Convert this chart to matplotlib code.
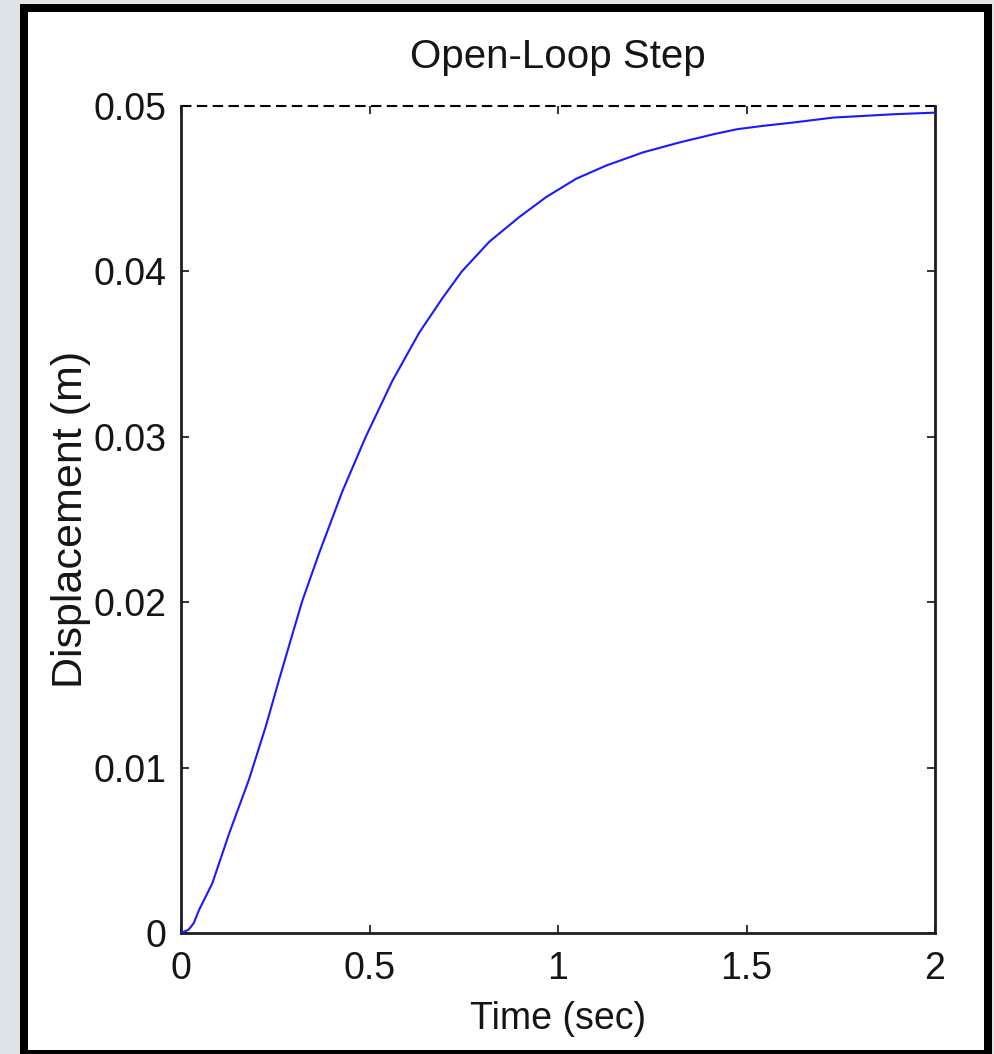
import matplotlib
matplotlib.use("Agg")
import matplotlib.pyplot as plt
from matplotlib.patches import Rectangle

# Data
time_s = [0.0, 0.02, 0.034, 0.048, 0.083, 0.1275, 0.1806, 0.225, 0.260, 0.296,
          0.322, 0.367, 0.428, 0.490, 0.561, 0.632, 0.694, 0.745, 0.818, 0.898,
          0.969, 1.048, 1.128, 1.226, 1.323, 1.414, 1.476, 1.544, 1.624, 1.730,
          1.889, 2.0]
displacement = [0.0, 0.0002, 0.0006, 0.0014, 0.0030, 0.0060, 0.0093, 0.0125, 0.0153, 0.0181,
                0.0201, 0.0230, 0.0267, 0.0300, 0.0334, 0.0363, 0.0384, 0.0400, 0.0418, 0.0433,
                0.0445, 0.0456, 0.0464, 0.0472, 0.0478, 0.0483, 0.0486, 0.0488, 0.0490, 0.0493,
                0.0495, 0.0496]
steady_state = 0.05
x_ticks = [0, 0.5, 1, 1.5, 2]
x_tick_labels = ["0", "0.5", "1", "1.5", "2"]
y_ticks = [0, 0.01, 0.02, 0.03, 0.04, 0.05]
y_tick_labels = ["0", "0.01", "0.02", "0.03", "0.04", "0.05"]

plt.rcParams['font.family'] = ['Liberation Sans', 'DejaVu Sans']

W, H = 994, 1054
fig = plt.figure(figsize=(W / 100, H / 100), dpi=100, facecolor='#e6e6e6')

# left strip tint
fig.patches.append(Rectangle((0, 0), 20 / W, 1, transform=fig.transFigure,
                             facecolor='#dde3e7', edgecolor='none', zorder=-20))
# white panel with black frame
fig.patches.append(Rectangle((24 / W, 0), (988 - 24) / W, (H - 8) / H,
                             transform=fig.transFigure, facecolor='white',
                             edgecolor='black', linewidth=8 * 0.72, zorder=-10))

ax = fig.add_axes([181 / W, (H - 933) / H, (935 - 181) / W, (933 - 106) / H])
ax.set_facecolor('white')

ax.plot(time_s, displacement, color='#1a1aff', linewidth=1.5, zorder=3)
ax.plot([0, 2], [steady_state, steady_state], color='black', linewidth=1.5,
        linestyle=(0, (5, 2.6)), clip_on=False, zorder=4)

ax.set_xlim(0, 2)
ax.set_ylim(0, 0.05)
ax.set_xticks(x_ticks)
ax.set_xticklabels(x_tick_labels)
ax.set_yticks(y_ticks)
ax.set_yticklabels(y_tick_labels)

for side in ['left', 'bottom', 'right']:
    ax.spines[side].set_linewidth(2.0)
    ax.spines[side].set_color('#1e1e1e')
ax.spines['top'].set_visible(False)

ax.tick_params(direction='in', length=6, width=1.4, color='#333333',
               top=True, right=True, labelsize=27, pad=10.5, labelcolor='#151515')
ax.tick_params(axis='x', pad=13)

ax.set_title('Open-Loop Step', fontsize=29, pad=27, color='#151515')
ax.set_xlabel('Time (sec)', fontsize=27, labelpad=10, color='#151515')
ax.set_ylabel('Displacement (m)', fontsize=31, labelpad=2, color='#151515')

fig.savefig('out.png', dpi=100, facecolor=fig.get_facecolor())
